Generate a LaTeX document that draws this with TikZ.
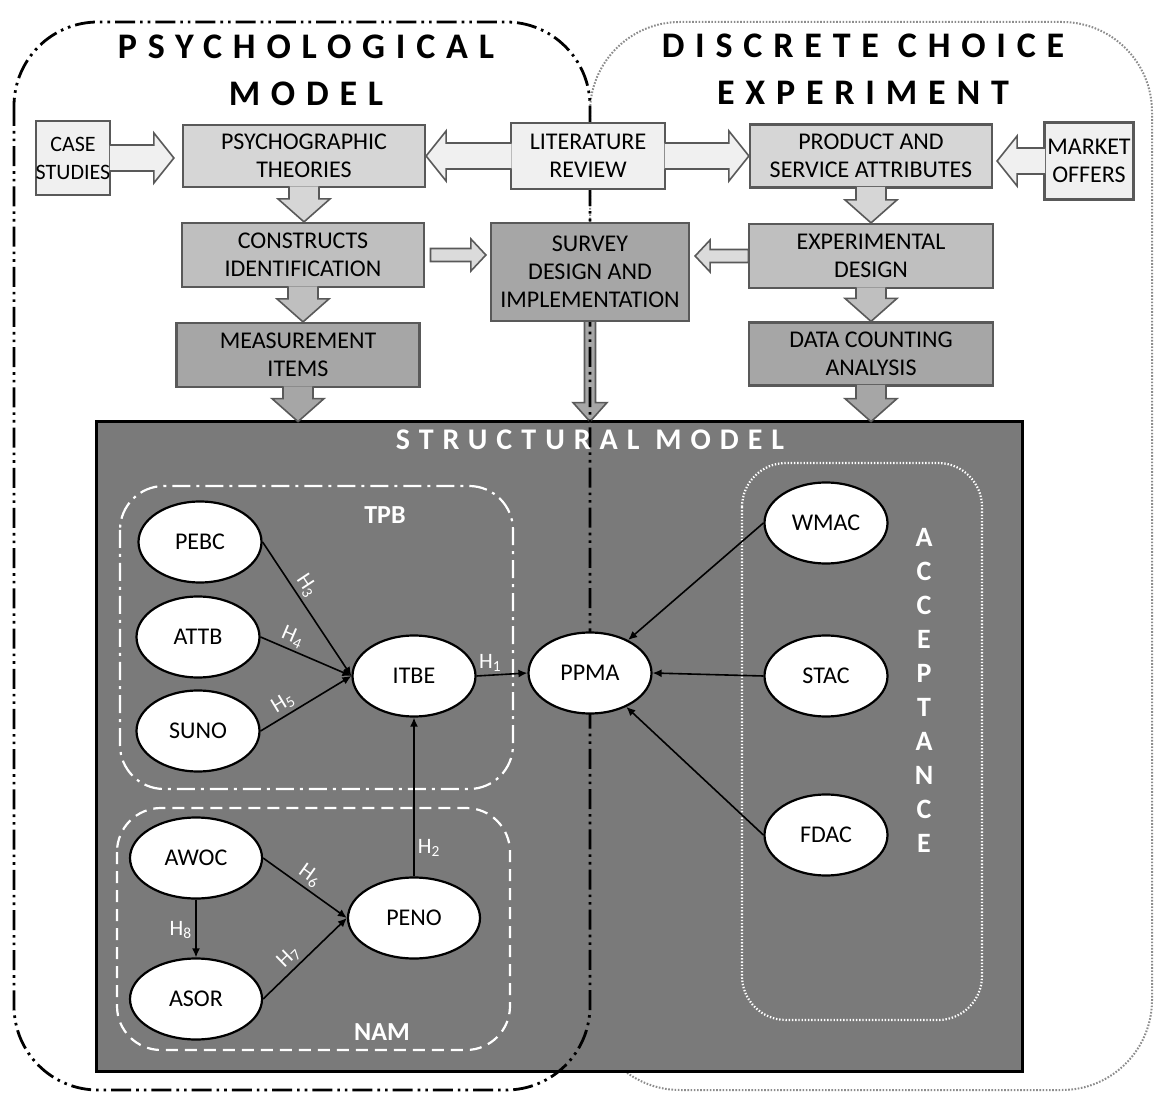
\documentclass[tikz,border=0pt]{standalone}
\usepackage{fontspec}
\setmainfont{Carlito}
\newfontfamily\wideface[LetterSpace=30]{Carlito}
\newfontfamily\modelface[LetterSpace=30]{Carlito}
\usetikzlibrary{calc,arrows.meta,shapes.geometric}

\pgfdeclarelayer{back}
\pgfsetlayers{back,main}

\definecolor{boxline}{gray}{0.35}
\definecolor{paleA}{gray}{0.94}
\definecolor{paleB}{gray}{0.84}
\definecolor{paleC}{gray}{0.75}
\definecolor{paleD}{gray}{0.65}
\definecolor{paleE}{gray}{0.86}
\definecolor{modelgray}{gray}{0.48}
\definecolor{dotgray}{gray}{0.55}

\newcommand{\boxfont}{\fontsize{12}{14}\selectfont}
\newcommand{\hypfont}{\fontsize{11}{13}\selectfont}
\newcommand{\titlefont}{\fontsize{18}{23.5}\selectfont\wideface\bfseries}
\newcommand{\modelfont}{\fontsize{15}{18}\selectfont\modelface\bfseries}
\newcommand{\accfont}{\fontsize{14}{17}\selectfont\bfseries}
\newcommand{\groupfont}{\fontsize{13}{15}\selectfont\bfseries}

\newcommand{\arrowpoints}[5]{%
  \path ($(#1)!-0.8pt!(#2)$) coordinate (tailpt) ($(#2)!#5!(#1)$) coordinate (neck);
  \path ($(tailpt)!#3!90:(#2)$) coordinate (tailL)
        ($(tailpt)!#3!-90:(#2)$) coordinate (tailR)
        ($(neck)!#3!90:(#2)$) coordinate (neckL)
        ($(neck)!#3!-90:(#2)$) coordinate (neckR)
        ($(neck)!#4!90:(#2)$) coordinate (headL)
        ($(neck)!#4!-90:(#2)$) coordinate (headR);
}
\newcommand{\blockarrow}[6]{%
  \arrowpoints{#2}{#3}{#4}{#5}{#6}
  \fill[#1] (tailL) -- (neckL) -- (headL) -- (#3) -- (headR) -- (neckR) -- (tailR) -- cycle;
  \draw[blockline] (tailL) -- (neckL) -- (headL) -- (#3) -- (headR) -- (neckR) -- (tailR);
}
\newcommand{\shortblock}[6]{%
  \arrowpoints{#2}{#3}{#4}{#5}{#6}
  \draw[blockline, fill=#1] (tailL) -- (neckL) -- (headL) -- (#3) -- (headR) -- (neckR) -- (tailR) -- cycle;
}

\begin{document}
\begin{tikzpicture}[x=0.5pt, y=-0.5pt,
  box/.style={draw=boxline, line width=1.1pt, align=center, inner sep=1pt, font=\boxfont},
  blockline/.style={draw=boxline, line width=0.8pt},
  latent/.style={ellipse, draw=black, fill=white, line width=1.1pt, minimum width=61.5pt, minimum height=40.5pt, inner sep=0pt, font=\boxfont},
  link/.style={draw=black, line width=0.8pt, -{Latex[length=4.5pt,width=4pt]}},
  hyp/.style={text=white, font=\hypfont, inner sep=1.5pt}]
\useasboundingbox (0,0) rectangle (1161,1095);

\node[font=\titlefont, align=center] (psytitle) at (306,70) {PSYCHOLOGICAL\\MODEL};
\node[font=\titlefont, align=center] (dcetitle) at (863,69) {DISCRETE CHOICE\\EXPERIMENT};

\node[box, fill=paleA, minimum width=37pt, minimum height=37pt, inner xsep=0pt, font=\fontsize{11}{14}\selectfont] (case) at (73,158) {CASE\\STUDIES};
\node[box, fill=paleB, minimum width=121pt, minimum height=31pt] (psy) at (304,156) {PSYCHOGRAPHIC\\THEORIES};
\node[box, fill=paleA, minimum width=77pt, minimum height=33pt] (lit) at (588,156) {LITERATURE\\REVIEW};
\node[box, fill=paleB, minimum width=121pt, minimum height=31.5pt] (prod) at (871,156) {PRODUCT AND\\SERVICE ATTRIBUTES};
\node[box, fill=paleA, minimum width=44.5pt, minimum height=38.5pt, inner xsep=0pt] (market) at (1089,161) {MARKET\\OFFERS};
\node[box, fill=paleC, minimum width=121pt, minimum height=32pt] (constr) at (303,255) {CONSTRUCTS\\IDENTIFICATION};
\node[box, fill=paleD, minimum width=99pt, minimum height=49pt] (survey) at (590,272) {SURVEY\\DESIGN AND\\IMPLEMENTATION};
\node[box, fill=paleC, minimum width=122pt, minimum height=32pt] (exper) at (871,256) {EXPERIMENTAL\\DESIGN};
\node[box, fill=paleD, minimum width=121.5pt, minimum height=32pt] (meas) at (298,355) {MEASUREMENT\\ITEMS};
\node[box, fill=paleD, minimum width=122pt, minimum height=31.5pt] (data) at (871,354) {DATA COUNTING\\ANALYSIS};
\node[minimum width=462.5pt, minimum height=324.5pt, inner sep=0pt] (struct) at (559.5,746.5) {};

\begin{pgfonlayer}{back}
\fill[white] (0,0) rectangle (1161,1095);
\draw[dotgray, line width=1pt, dash pattern=on 0.8pt off 0.8pt, rounded corners=45pt] (590,22) rectangle (1152,1090);
\draw[black, line width=1.4pt, fill=modelgray] (struct.north west) rectangle (struct.south east);
\coordinate (s1) at (survey.south |- struct.north);
\shortblock{paleD}{survey.south}{s1}{2.75pt}{8.5pt}{9.5pt}
\draw[black, line width=1.4pt, dash pattern=on 10pt off 2.5pt on 1.3pt off 2.5pt on 1.3pt off 2.5pt, rounded corners=42pt] (14,22) rectangle (590,1090);
\end{pgfonlayer}

\coordinate (a1) at ([xshift=-4pt]psy.west |- case.east);
\coordinate (a2) at ([xshift=2pt]prod.east |- market.west);
\blockarrow{paleA}{case.east}{a1}{6.5pt}{12.5pt}{10pt}
\blockarrow{paleA}{lit.west}{psy.east}{6.5pt}{12.5pt}{10pt}
\blockarrow{paleA}{lit.east}{prod.west}{6.5pt}{12.5pt}{10pt}
\blockarrow{paleA}{market.west}{a2}{6.5pt}{12.5pt}{10pt}

\coordinate (c1) at (psy.south |- constr.north);
\coordinate (c2) at (constr.south |- meas.north);
\coordinate (c3) at (meas.south |- struct.north);
\coordinate (c4) at (prod.south |- exper.north);
\coordinate (c5) at (exper.south |- data.north);
\coordinate (c6) at (data.south |- struct.north);
\blockarrow{paleB}{psy.south}{c1}{7.5pt}{13pt}{11.5pt}
\blockarrow{paleC}{constr.south}{c2}{7.5pt}{13pt}{11.5pt}
\blockarrow{paleD}{meas.south}{c3}{7.5pt}{13pt}{11.5pt}
\blockarrow{paleB}{prod.south}{c4}{7.5pt}{13pt}{11.5pt}
\blockarrow{paleC}{exper.south}{c5}{7.5pt}{13pt}{11.5pt}
\blockarrow{paleD}{data.south}{c6}{7.5pt}{13pt}{11.5pt}

\coordinate (c7) at ([xshift=3.5pt]constr.east);
\coordinate (c8) at ([xshift=-2pt]survey.west |- constr.east);
\coordinate (c9) at ([xshift=-0.5pt]exper.west);
\coordinate (c10) at ([xshift=2.5pt]survey.east |- exper.west);
\shortblock{paleE}{c7}{c8}{3.25pt}{8pt}{7.5pt}
\shortblock{paleE}{c9}{c10}{3.25pt}{8pt}{7.5pt}

\node[font=\modelfont, text=white] (modeltitle) at (590,440) {STRUCTURAL MODEL};
\draw[white, line width=1.1pt, dash pattern=on 9pt off 3pt on 1.5pt off 3pt, rounded corners=22pt] (120,486) rectangle (513,789);
\draw[white, line width=1.1pt, dash pattern=on 6pt off 3.5pt, rounded corners=22pt] (117,808) rectangle (510,1050);
\draw[white, line width=1.1pt, dash pattern=on 0.7pt off 0.9pt, rounded corners=22pt] (742,463) rectangle (982,1020);
\node[font=\groupfont, text=white] (tpb) at (385,515) {TPB};
\node[font=\groupfont, text=white] (nam) at (382,1032) {NAM};
\node[font=\accfont, text=white, align=center] (acc) at (924,690) {A\\C\\C\\E\\P\\T\\A\\N\\C\\E};

\node[latent] (pebc) at (200,542) {PEBC};
\node[latent] (attb) at (198,637) {ATTB};
\node[latent] (suno) at (198,731) {SUNO};
\node[latent] (itbe) at (414,676) {ITBE};
\node[latent] (ppma) at (590,673) {PPMA};
\node[latent, minimum width=66pt] (awoc) at (196,858) {AWOC};
\node[latent, minimum width=66pt] (asor) at (196,999) {ASOR};
\node[latent, minimum width=66pt] (peno) at (414,918) {PENO};
\node[latent] (wmac) at (826,523) {WMAC};
\node[latent] (stac) at (826,676) {STAC};
\node[latent] (fdac) at (826,835) {FDAC};

\draw[link] (pebc.east) -- node[hyp, sloped, above, pos=0.38] {H\textsubscript{3}} (itbe.west);
\draw[link] (attb.east) -- node[hyp, sloped, above, pos=0.3] {H\textsubscript{4}} (itbe.west);
\draw[link] (suno.east) -- node[hyp, sloped, above, pos=0.32] {H\textsubscript{5}} (itbe.west);
\draw[link] (itbe.east) -- node[hyp, above, pos=0.27] {H\textsubscript{1}} (ppma.west);
\draw[link] (peno.north) -- node[hyp, right, pos=0.18] {H\textsubscript{2}} (itbe.south);
\draw[link] (awoc.east) -- node[hyp, sloped, above, pos=0.47] {H\textsubscript{6}} (peno.west);
\draw[link] (asor.east) -- node[hyp, sloped, above, pos=0.41] {H\textsubscript{7}} (peno.west);
\draw[link] (awoc.south) -- node[hyp, left, pos=0.52] {H\textsubscript{8}} (asor.north);
\draw[link] (wmac.west) -- (ppma);
\draw[link] (stac.west) -- (ppma.east);
\draw[link] (fdac.west) -- (ppma);
\end{tikzpicture}
\end{document}
